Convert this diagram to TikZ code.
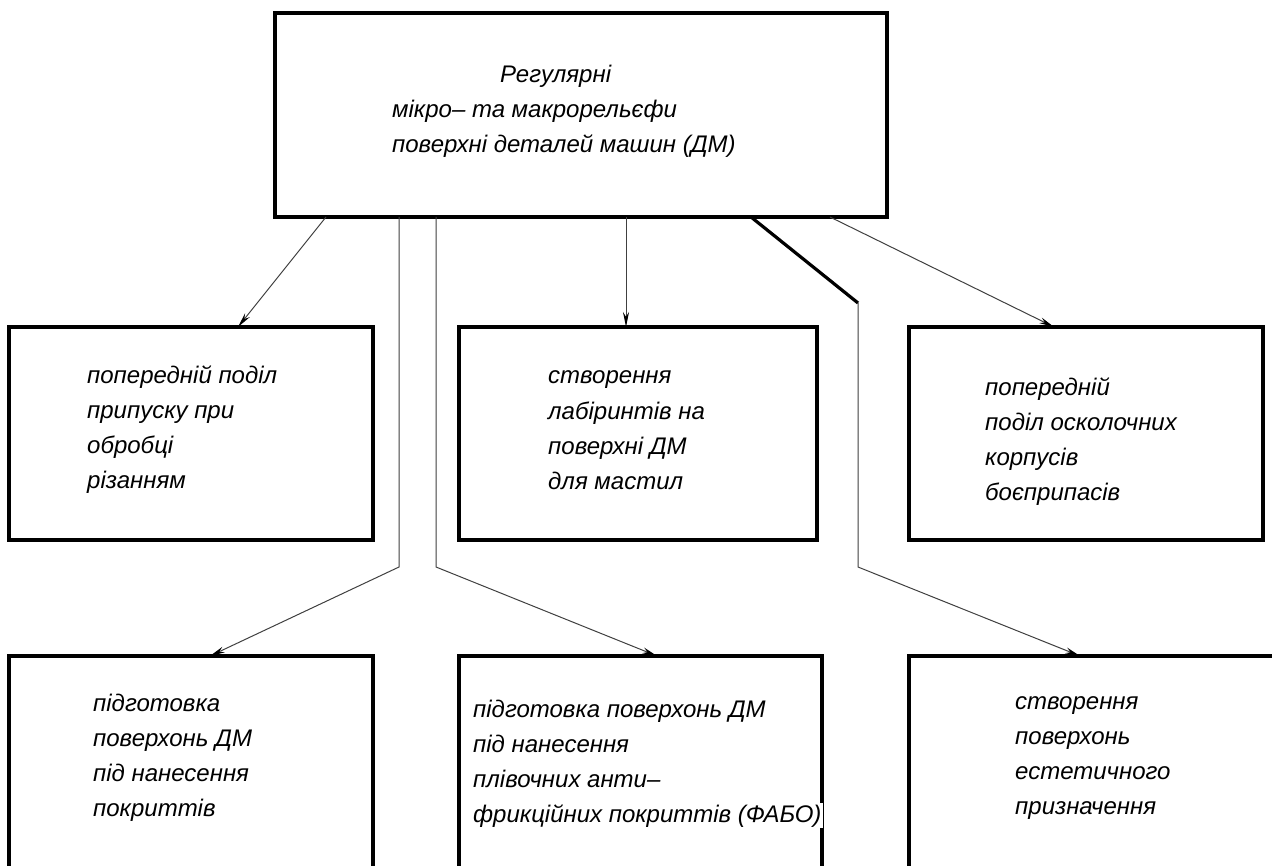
\documentclass[tikz,border=0pt]{standalone}
\usepackage{fontspec}
\setmainfont{Liberation Sans}
\usetikzlibrary{arrows.meta,calc}
\begin{document}
\begin{tikzpicture}[x=1pt,y=-1pt,
  box/.style={draw=black,line width=3.2pt,inner sep=0pt,outer sep=0pt,rectangle},
  lbl/.style={anchor=base west,align=left,inner sep=0pt,font=\fontsize{24}{35}\selectfont\itshape},
  conn/.style={draw=black!75,line width=1pt},
  arr/.style={conn,-{Stealth[length=15pt,width=6pt,black]}},
  heavy/.style={draw=black,line width=3.2pt}]
\clip (0,0) rectangle (1272,866);
\fill[white] (0,0) rectangle (1272,866);
% boxes
\node[box,minimum width=612,minimum height=204] (top) at (581,115) {};
\node[box,minimum width=364,minimum height=213] (m1) at (191,433.5) {};
\node[box,minimum width=358,minimum height=213] (m2) at (638,433.5) {};
\node[box,minimum width=354,minimum height=213] (m3) at (1086,433.5) {};
\node[box,minimum width=364,minimum height=244] (b1) at (191,778) {};
\node[box,minimum width=363,minimum height=244] (b2) at (640.5,778) {};
\node[box,minimum width=381,minimum height=244] (b3) at (1099.5,778) {};
% texts (anchored at the baseline of their last line)
\node[lbl] (ttop) at (392,153) {\hspace*{108pt}Регулярні\\мікро– та макрорельєфи\\поверхні деталей машин (ДМ)};
\node[lbl] (tm1) at (87,488) {попередній поділ\\припуску при\\обробці\\різанням};
\node[lbl] (tm2) at (548,489) {створення\\лабіринтів на\\поверхні ДМ\\для мастил};
\node[lbl] (tm3) at (985,500) {попередній\\поділ осколочних\\корпусів\\боєприпасів};
\node[lbl] (tb1) at (93,816) {підготовка\\поверхонь ДМ\\під нанесення\\покриттів};
\node[lbl] (tb2) at (473,822) {підготовка поверхонь ДМ\\під нанесення\\плівочних анти–\\{\setlength\fboxsep{1.5pt}\hspace*{-1.5pt}\colorbox{white}{фрикційних покриттів (ФАБО)}}};
\node[lbl] (tb3) at (1015,814) {створення\\поверхонь\\естетичного\\призначення};
% bend points
\coordinate (k1) at (399,567);
\coordinate (k2) at (436,567);
\coordinate (k3) at (858,303);
\coordinate (k4) at (858,567);
% connectors
\draw[arr] ([xshift=51pt]top.south west) -- ([xshift=229pt]m1.north west);
\draw[arr] ([xshift=124pt]top.south west) -- (k1) -- ([xshift=201pt]b1.north west);
\draw[arr] ([xshift=161pt]top.south west) -- (k2) -- ([xshift=198pt]b2.north west);
\draw[arr] ([xshift=351pt]top.south west) -- ([xshift=167pt]m2.north west);
\draw[heavy] ([xshift=476pt]top.south west) -- (k3);
\draw[arr] (k3) -- (k4) -- ([xshift=171pt]b3.north west);
\draw[arr] ([xshift=555pt]top.south west) -- ([xshift=145pt]m3.north west);
\end{tikzpicture}
\end{document}
